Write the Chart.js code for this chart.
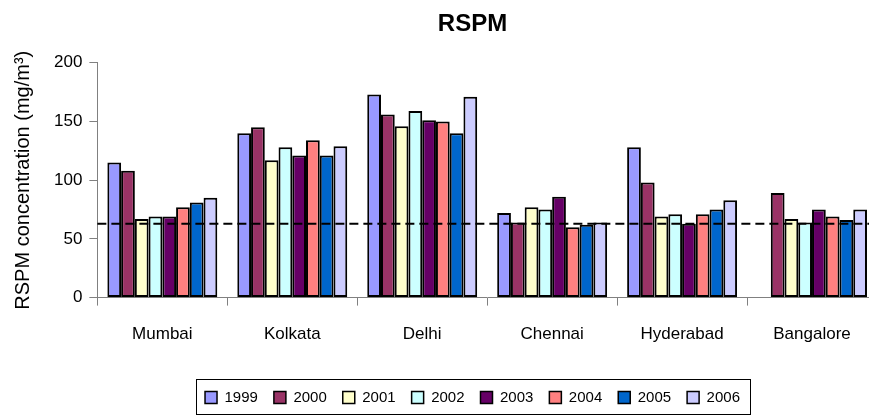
<!DOCTYPE html>
<html>
<head>
<meta charset="utf-8">
<script src="https://cdn.jsdelivr.net/npm/chart.js@4"></script>
<style>
  html, body { margin: 0; padding: 0; background: #fff; overflow: hidden; }
  #wrap { width: 945px; height: 417px; position: relative; }
</style>
</head>
<body>
<div id="wrap"><canvas id="grafico"></canvas></div>
<script>
// categorias y series
const ciudades = ['Mumbai', 'Kolkata', 'Delhi', 'Chennai', 'Hyderabad', 'Bangalore'];
const anios = ['1999', '2000', '2001', '2002', '2003', '2004', '2005', '2006'];
const rspm1999 = [115, 140, 173, 72, 128, null];
const rspm2000 = [108, 145, 156, 64, 98, 89];
const rspm2001 = [67, 117, 146, 77, 69, 67];
const rspm2002 = [69, 128, 159, 75, 71, 64];
const rspm2003 = [69, 121, 151, 86, 63, 75];
const rspm2004 = [77, 134, 150, 60, 71, 69];
const rspm2005 = [81, 121, 140, 62, 75, 66];
const rspm2006 = [85, 129, 171, 64, 83, 75];
const colores = ['#9999FF', '#993366', '#FFFFCC', '#CCFFFF', '#660066', '#FF8080', '#0066CC', '#CCCCFF'];
const limite = 63;
const ticksY = [0, 50, 100, 150, 200];

const series = [rspm1999, rspm2000, rspm2001, rspm2002, rspm2003, rspm2004, rspm2005, rspm2006];
const fuente = "'Liberation Sans', Arial, sans-serif";

// linea discontinua del limite + recuadro de la leyenda
const extras = {
  id: 'extras',
  afterDatasetsDraw(chart) {
    const ctx = chart.ctx;
    const y = chart.scales.y.getPixelForValue(limite);
    ctx.save();
    ctx.strokeStyle = '#000';
    ctx.lineWidth = 2;
    ctx.setLineDash([9, 5]);
    ctx.beginPath();
    ctx.moveTo(chart.chartArea.left, y);
    ctx.lineTo(chart.chartArea.right, y);
    ctx.stroke();
    ctx.restore();
  },
  afterDraw(chart) {
    const cajas = chart.legend.legendHitBoxes;
    if (!cajas || !cajas.length) return;
    let x0 = Infinity, x1 = -Infinity, y0 = Infinity, y1 = -Infinity;
    cajas.forEach(b => {
      x0 = Math.min(x0, b.left); x1 = Math.max(x1, b.left + b.width);
      y0 = Math.min(y0, b.top); y1 = Math.max(y1, b.top + b.height);
    });
    const ctx = chart.ctx;
    ctx.save();
    ctx.strokeStyle = '#000';
    ctx.lineWidth = 1;
    ctx.strokeRect(Math.round(x0 - 9) + 0.5, Math.round(y0 - 11) + 0.5, Math.round(x1 - x0 + 19), Math.round(y1 - y0 + 20));
    ctx.restore();
  }
};

new Chart(document.getElementById('grafico'), {
  type: 'bar',
  data: {
    labels: ciudades,
    datasets: anios.map((a, i) => ({
      label: a,
      data: series[i],
      backgroundColor: colores[i],
      borderColor: '#000',
      borderWidth: 2,
      borderSkipped: false,
      categoryPercentage: 0.846,
      barPercentage: 1
    }))
  },
  options: {
    responsive: true,
    maintainAspectRatio: false,
    animation: false,
    layout: { padding: { left: 0, right: 0, top: 0, bottom: 2 } },
    plugins: {
      title: {
        display: true,
        text: 'RSPM',
        color: '#000',
        font: { family: fuente, size: 24, weight: 'bold' },
        padding: { top: 10, bottom: 24 }
      },
      legend: {
        position: 'bottom',
        labels: {
          color: '#000',
          font: { family: fuente, size: 15 },
          boxWidth: 12,
          boxHeight: 12,
          padding: 16,
          generateLabels(chart) {
            return chart.data.datasets.map((d, i) => ({
              text: d.label,
              fillStyle: d.backgroundColor,
              strokeStyle: '#000',
              lineWidth: 1.5,
              datasetIndex: i
            }));
          }
        }
      },
      tooltip: { enabled: false }
    },
    scales: {
      x: {
        afterFit(scale) { scale.height += 10; },
        grid: { offset: true, drawOnChartArea: false, drawTicks: true, tickLength: 8, color: '#808080' },
        border: { color: '#808080' },
        ticks: { color: '#000', font: { family: fuente, size: 17 }, padding: 19 }
      },
      y: {
        min: 0,
        max: 200,
        afterBuildTicks(axis) { axis.ticks = ticksY.map(v => ({ value: v })); },
        grid: { drawOnChartArea: false, drawTicks: true, tickLength: 8, color: '#808080' },
        border: { color: '#808080' },
        ticks: { color: '#000', font: { family: fuente, size: 17 }, padding: 7 },
        title: {
          display: true,
          text: 'RSPM concentration (mg/m³)',
          color: '#000',
          font: { family: fuente, size: 20 },
          padding: { top: 11, bottom: 12 }
        }
      },
      // eje invisible a la derecha: deja el area del grafico cortada como en el original
      derecha: {
        position: 'right',
        display: true,
        afterFit(scale) { scale.width = 68; },
        grid: { display: false },
        border: { display: false },
        ticks: { display: false }
      }
    }
  },
  plugins: [extras]
});
</script>
</body>
</html>
